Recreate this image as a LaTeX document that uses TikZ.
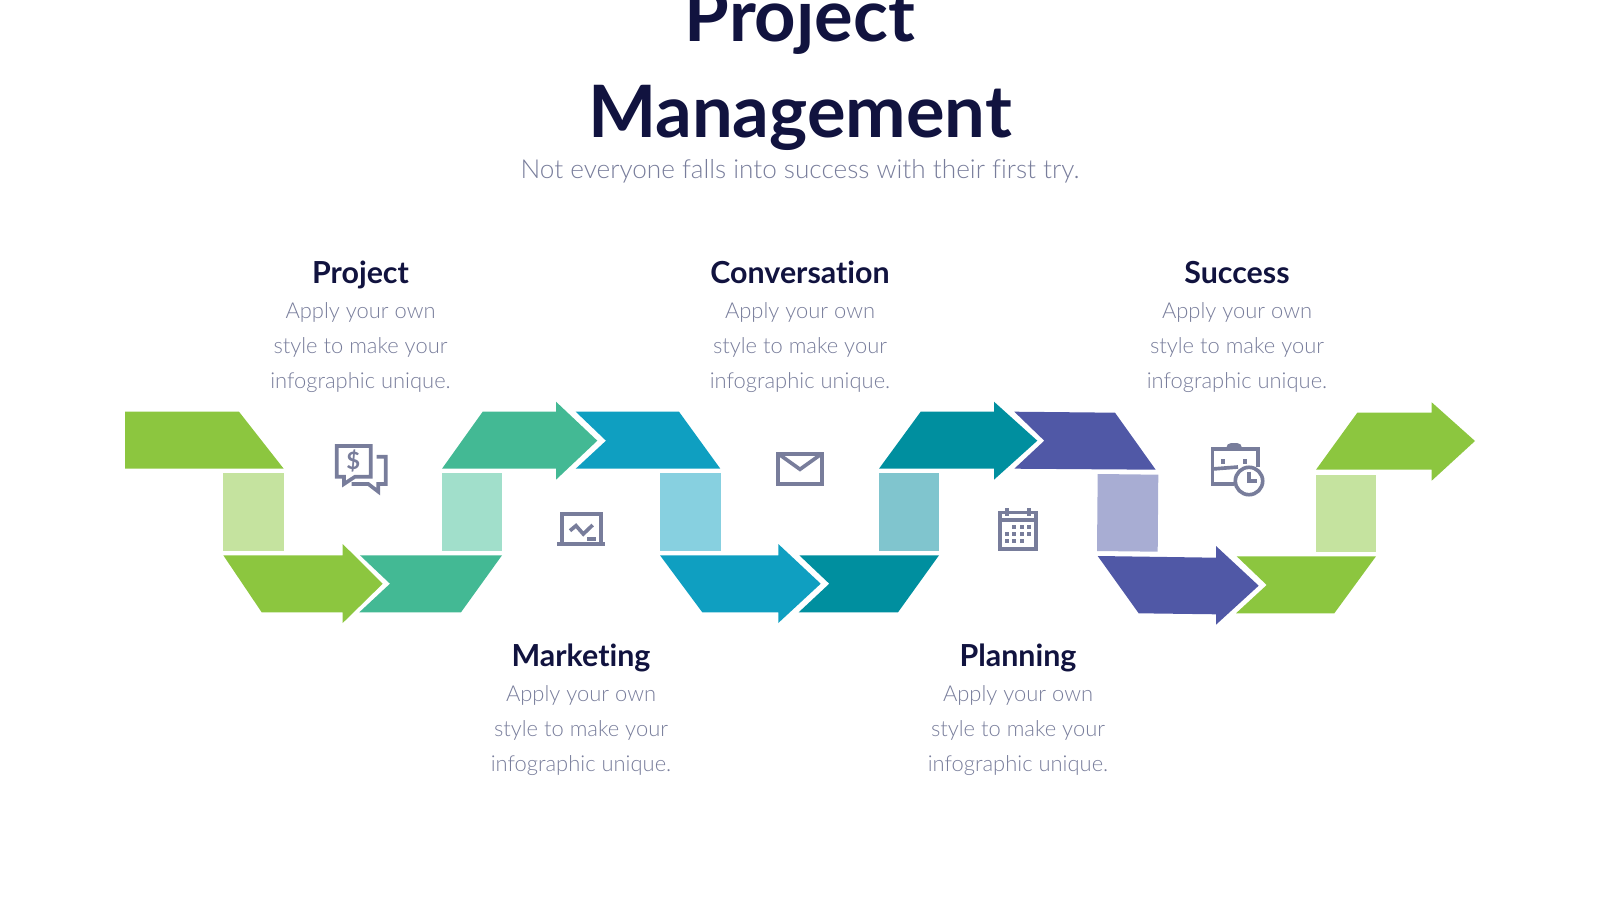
\documentclass[tikz,border=0pt]{standalone}
\usepackage{fontspec}
\setmainfont[Ligatures=NoCommon]{Lato}
\newfontfamily\thinfont[Ligatures=NoCommon]{Lato Light}
\definecolor{navy}{HTML}{11133F}
\definecolor{slate}{HTML}{787D9B}
\definecolor{leaf}{HTML}{8CC63F}
\definecolor{leaflight}{HTML}{C5E39F}
\definecolor{sea}{HTML}{43B994}
\definecolor{sealight}{HTML}{A1DFCB}
\definecolor{sky}{HTML}{0F9FC1}
\definecolor{skylight}{HTML}{87D0E0}
\definecolor{deep}{HTML}{008F9F}
\definecolor{deeplight}{HTML}{80C5CE}
\definecolor{plum}{HTML}{5058A6}
\definecolor{plumlight}{HTML}{A8ADD3}

\begin{document}
\begin{tikzpicture}[x=0.025cm,y=-0.025cm,
    titletext/.style={anchor=base,text=navy,font=\fontsize{51.4}{51.4}\selectfont\bfseries},
    subtext/.style={anchor=base,text=slate,font=\thinfont\fontsize{18.6}{18.6}\selectfont},
    headtext/.style={anchor=base,text=navy,font=\fontsize{21.6}{21.6}\selectfont\bfseries},
    linetext/.style={anchor=base,text=slate,font=\thinfont\fontsize{15.6}{15.6}\selectfont},
    icon/.style={draw=slate,line width=2.6pt,line join=miter}]
  \useasboundingbox (0,0) rectangle (1600,900);

  \node[titletext] (title1) at (800,42) {Project};
  \node[titletext] (title2) at (800,137) {Management};
  \node[subtext] (sub) at (800,178) {Not everyone falls into success with their first try.};

  \foreach \i/\x/\y/\name in {1/360.5/283/Project,2/581/666/Marketing,3/800/283/Conversation,4/1018/666/Planning,5/1237/283/Success}{
    \node[headtext] (head\i) at (\x,\y) {\name};
    \node[linetext] (lineA\i) at (\x,\y+35.5) {Apply your own};
    \node[linetext] (lineB\i) at (\x,\y+70.5) {style to make your};
    \node[linetext] (lineC\i) at (\x,\y+105.5) {infographic unique.};
  }

  \fill[leaf] (125,411.7) -- (239,411.7) -- (283.7,468.7) -- (125,468.7) -- cycle;
  \fill[leaflight] (223.3,473.3) rectangle (283.7,550.7);
  \fill[leaf] (223.3,555.3) -- (342.7,555.3) -- (342.7,544) -- (382.7,583.7) -- (342.7,623) -- (342.7,612.3) -- (261.7,612.3) -- cycle;

  \fill[sea] (360,555.3) -- (502,555.3) -- (461,612.3) -- (359.3,612.3) -- (390,583.7) -- cycle;
  \fill[sealight] (442,473.3) rectangle (502.3,550.7);
  \fill[sea] (442,468.7) -- (482.7,411.7) -- (556,411.7) -- (556,401.7) -- (597.3,440.7) -- (556,479.7) -- (556,468.7) -- cycle;

  \fill[sky] (575.7,411.7) -- (679,411.7) -- (720.3,468.7) -- (575.7,468.7) -- (606,440.7) -- cycle;
  \fill[skylight] (660,473.3) rectangle (720.7,550.7);
  \fill[sky] (660,555.3) -- (778.3,555.3) -- (778.3,544) -- (820.7,583.7) -- (778.3,623) -- (778.3,612.3) -- (702.3,612.3) -- cycle;

  \fill[deep] (799.3,555.3) -- (939,555.3) -- (898,612.3) -- (798.7,612.3) -- (829.3,583.7) -- cycle;
  \fill[deeplight] (879,473.3) rectangle (939.3,550.7);
  \fill[deep] (879,468.7) -- (920.7,411.7) -- (994,411.7) -- (994,401.7) -- (1037.3,440.7) -- (994,479.7) -- (994,468.7) -- cycle;

  \fill[plum] (1014.3,411.7) -- (1115,412.7) -- (1155.7,469.7) -- (1014.3,468.7) -- (1044.3,440.7) -- cycle;
  \fill[plumlight] (1097.7,474) -- (1158.3,474.7) -- (1157.7,551.7) -- (1097,551) -- cycle;
  \fill[plum] (1097.7,556) -- (1216,557.7) -- (1216,546) -- (1258.7,585.7) -- (1216,624.7) -- (1216,614.3) -- (1138.7,613.3) -- cycle;

  \fill[leaf] (1236.7,556.3) -- (1376,556.3) -- (1334.3,613.3) -- (1236,613.3) -- (1266.7,585) -- cycle;
  \fill[leaflight] (1316,474.7) rectangle (1376.3,551.7);
  \fill[leaf] (1316,469.7) -- (1357.3,412.7) -- (1431.7,412.7) -- (1431.7,402.3) -- (1475,441) -- (1431.7,480.7) -- (1431.7,469.7) -- cycle;

  \draw[icon] (344,476.7) -- (336.7,476.7) -- (336.7,446) -- (370.7,446) -- (370.7,476.7) -- (355,476.7) -- (344,484) -- cycle;
  \draw[icon] (376.7,456.7) -- (385.7,456.7) -- (385.7,484) -- (378.3,484) -- (378.3,491.7) -- (368.3,484) -- (351.7,484);
  \node[text=slate,font=\fontsize{17}{17}\selectfont\bfseries] (dollar) at (353.3,461) {\$};

  \draw[icon] (561.7,543) -- (561.7,514.3) -- (601,514.3) -- (601,543);
  \draw[icon] (557.3,544.3) -- (605,544.3);
  \draw[icon] (570,530.7) -- (576,525.7) -- (583.3,534) -- (592.7,525);
  \draw[icon] (587.3,538.7) -- (596,538.7);

  \draw[icon] (778,453.7) rectangle (822,484.3);
  \draw[icon] (780,455) -- (800,469.3) -- (820,455);

  \draw[icon] (1000,512.5) rectangle (1036,549);
  \draw[icon] (1000,520) -- (1036,520);
  \draw[icon] (1006.7,508.3) -- (1006.7,516);
  \draw[icon] (1029,508.3) -- (1029,516);
  \foreach \x/\y in {1014/526.7,1021.7/526.7,1029/526.7,1006.7/533.7,1014/533.7,1021.7/533.7,1029/533.7,1006.7/541,1014/541,1021.7/541}
    \fill[slate] (\x-1.9,\y-1.9) rectangle (\x+1.9,\y+1.9);

  \draw[icon] (1234.3,484.3) -- (1212.5,484.3) -- (1212.5,449) -- (1257.7,449) -- (1257.7,467.3);
  \draw[icon] (1212.5,469) -- (1238,467);
  \draw[icon,rounded corners=2pt] (1228.3,449) -- (1228.3,445) -- (1240,445) -- (1240,449);
  \draw[icon] (1223.3,459) -- (1223.3,464);
  \draw[icon] (1245.3,459) -- (1245.3,464);
  \draw[icon] (1249,481) circle (13.7);
  \draw[icon] (1249.3,471.7) -- (1249.3,481) -- (1257.3,481);
\end{tikzpicture}
\end{document}
